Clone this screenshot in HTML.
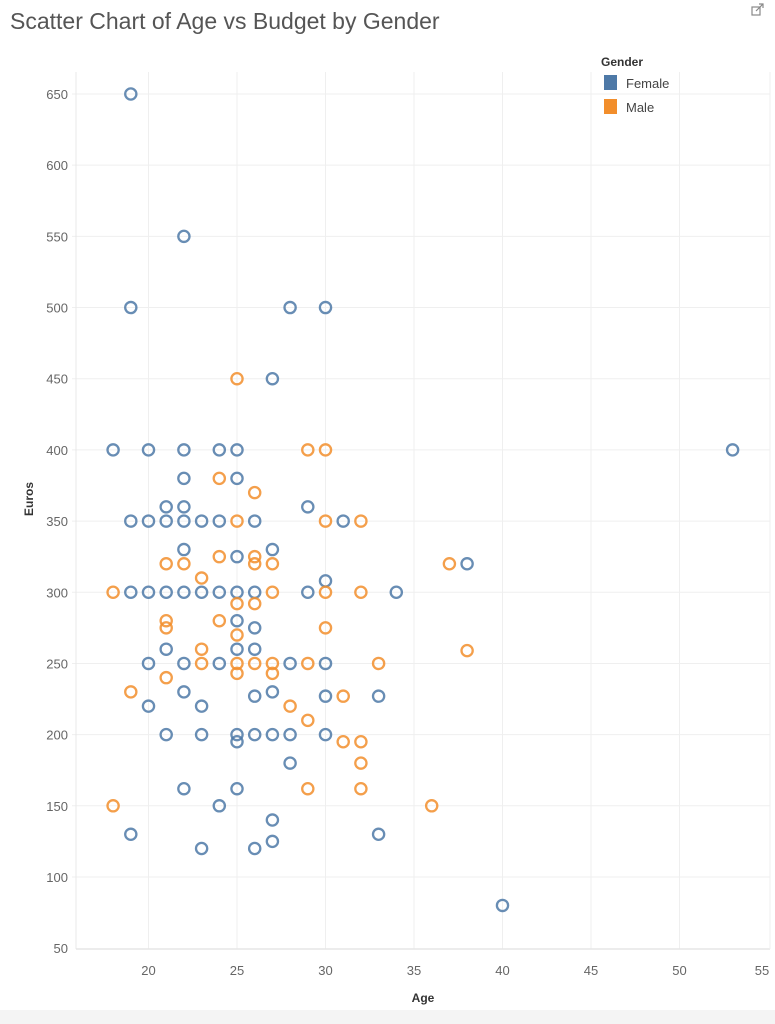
<!DOCTYPE html>
<html><head><meta charset="utf-8"><style>
html,body{margin:0;padding:0;background:#fff;}
svg{display:block;font-family:"Liberation Sans",sans-serif;}
</style></head><body>
<svg id="s" width="775" height="1024" xmlns="http://www.w3.org/2000/svg">
<rect width="775" height="1024" fill="#fff"/>
<rect x="0" y="1010" width="775" height="14" fill="#f4f4f4"/>
<text x="10" y="29" font-size="23" fill="#555">Scatter Chart of Age vs Budget by Gender</text>
<g fill="none" stroke="#888" stroke-width="1.2"><rect x="752" y="7" width="8" height="8"/><path d="M756 11 L763 4 M759 4 H763 V8"/></g>
<g id="grid" stroke="#efefef" stroke-width="1"></g>
<line x1="76" y1="72" x2="76" y2="949" stroke="#e8e8e8"/>
<line x1="76" y1="949" x2="770" y2="949" stroke="#e6e6e6" stroke-width="1.5"/>
<line x1="770" y1="72" x2="770" y2="949" stroke="#efefef"/>
<g id="ylab" font-size="13" fill="#666" text-anchor="end"></g>
<g id="xlab" font-size="13" fill="#666" text-anchor="middle"></g>
<text x="0" y="0" font-size="12" font-weight="bold" fill="#333" transform="translate(33,499) rotate(-90)" text-anchor="middle">Euros</text>
<text x="423" y="1002" font-size="12" font-weight="bold" fill="#333" text-anchor="middle">Age</text>
<text x="601" y="66" font-size="12" font-weight="bold" fill="#333">Gender</text>
<rect x="604" y="75" width="13" height="15" fill="#4e79a7"/>
<text x="626" y="88" font-size="13" fill="#444">Female</text>
<rect x="604" y="99" width="13" height="15" fill="#f28e2b"/>
<text x="626" y="112" font-size="13" fill="#444">Male</text>
<g id="pts" fill="none" stroke-width="2.3"></g>
</svg>
<script>
var X=function(a){return 148.5+(a-20)*17.7},Y=function(e){return 94+(650-e)*1.4236};
var ns="http://www.w3.org/2000/svg",g=document.getElementById('grid'),yl=document.getElementById('ylab'),xl=document.getElementById('xlab');
function el(p,t,a,txt){var e=document.createElementNS(ns,t);for(var k in a)e.setAttribute(k,a[k]);if(txt)e.textContent=txt;p.appendChild(e);}
for(var v=50;v<=650;v+=50){var y=Y(v);if(v>50)el(g,'line',{x1:72,x2:770,y1:y,y2:y});el(yl,'text',{x:68,y:y+5},String(v));}
for(var a=20;a<=55;a+=5){var x=X(a);if(a<55)el(g,'line',{x1:x,x2:x,y1:72,y2:949});el(xl,'text',{x:Math.min(x,762),y:975},String(a));}
var F=[[19,650],[22,550],[19,500],[28,500],[30,500],[27,450],[18,400],[20,400],[22,400],[24,400],[25,400],[53,400],[22,380],[25,380],[21,360],[22,360],[29,360],[19,350],[20,350],[21,350],[22,350],[23,350],[24,350],[26,350],[31,350],[22,330],[27,330],[25,325],[30,308],[38,320],[19,300],[20,300],[21,300],[22,300],[23,300],[24,300],[25,300],[26,300],[29,300],[34,300],[25,280],[26,275],[21,260],[25,260],[26,260],[20,250],[22,250],[24,250],[28,250],[30,250],[22,230],[26,227],[27,230],[30,227],[33,227],[20,220],[23,220],[21,200],[23,200],[25,200],[26,200],[27,200],[28,200],[30,200],[25,195],[28,180],[22,162],[25,162],[24,150],[27,140],[19,130],[33,130],[23,120],[26,120],[27,125],[40,80]];
var M=[[25,450],[29,400],[30,400],[24,380],[26,370],[25,350],[30,350],[32,350],[24,325],[26,325],[26,320],[27,320],[21,320],[22,320],[37,320],[23,310],[18,300],[27,300],[30,300],[32,300],[25,292],[26,292],[21,280],[21,275],[24,280],[30,275],[25,270],[23,260],[38,259],[23,250],[25,250],[26,250],[27,250],[29,250],[33,250],[25,243],[27,243],[21,240],[19,230],[31,227],[28,220],[29,210],[31,195],[32,195],[32,180],[29,162],[32,162],[18,150],[36,150]];
var p=document.getElementById('pts');
F.forEach(function(d){el(p,'circle',{cx:X(d[0]),cy:Y(d[1]),r:5.6,stroke:'#4e79a7','stroke-opacity':0.85});});
M.forEach(function(d){el(p,'circle',{cx:X(d[0]),cy:Y(d[1]),r:5.6,stroke:'#f28e2b','stroke-opacity':0.85});});
</script>
</body></html>
